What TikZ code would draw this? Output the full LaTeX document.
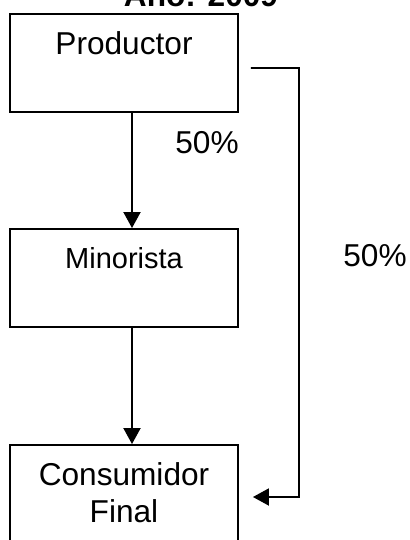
\documentclass[tikz,border=0pt]{standalone}
\usepackage{fontspec}
\setmainfont{Liberation Sans}
\usetikzlibrary{arrows.meta}
\begin{document}
\begin{tikzpicture}[x=0.02cm,y=-0.02cm,
          caja/.style={draw,line width=1.1pt,minimum width=4.56cm,minimum height=1.96cm,inner sep=0pt},
          txt/.style={anchor=base,inner sep=0pt,font=\fontsize{18}{20.5}\selectfont,align=center},
          flecha/.style={line width=1.1pt,-{Triangle[length=0.32cm,width=0.34cm]}}
          ]
          \useasboundingbox (0,0) rectangle (409,540);
          \node[txt,font=\fontsize{18}{20.5}\selectfont\bfseries] (titulo) at (201,7) {Año: 2009};
          \node[caja] (prod) at (124,63)  {};
          \node[caja] (mino) at (124,278) {};
          \node[caja] (cons) at (124,494) {};
          \node[txt] (prodt) at (124,55)  {Productor};
          \node[txt,font=\fontsize{16.5}{19}\selectfont] (minot) at (124,268) {Minorista};
          \node[txt] (const) at (124,522) {Consumidor\\Final};
          \node[txt] (pa) at (207,154) {50\%};
          \node[txt] (pb) at (375,266) {50\%};
          \draw[flecha] ([xshift=0.16cm]prod.south) -- ([xshift=0.16cm]mino.north);
          \draw[flecha] ([xshift=0.16cm]mino.south) -- ([xshift=0.16cm]cons.north);
          \draw[flecha] ([xshift=0.24cm,yshift=-0.1cm]prod.east) -- (299,68)
               |- ([xshift=0.28cm,yshift=-0.06cm]cons.east);
\end{tikzpicture}
\end{document}
